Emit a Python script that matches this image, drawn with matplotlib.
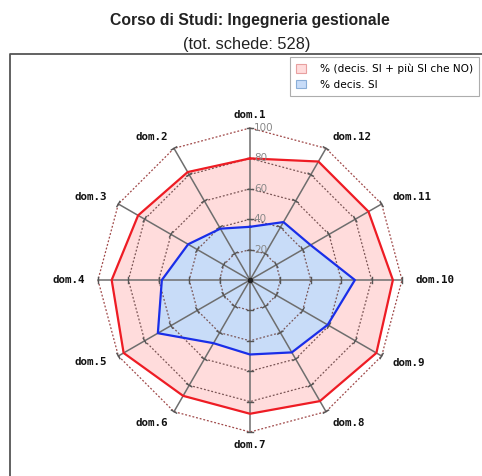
import numpy as np
import matplotlib
matplotlib.use("Agg")
import matplotlib.pyplot as plt
from matplotlib.patches import Patch
from matplotlib.lines import Line2D

categories = ["dom.1", "dom.2", "dom.3", "dom.4", "dom.5", "dom.6",
              "dom.7", "dom.8", "dom.9", "dom.10", "dom.11", "dom.12"]
pos_values = [80, 82, 85, 91, 96, 88, 88, 92, 96, 94, 90, 90]   # % (decis. SI + più SI che NO)
si_values = [35, 39, 47, 58, 70, 48, 49, 55, 59, 69, 46, 44]    # % decis. SI
ring_levels = [20, 40, 60, 80, 100]
ring_labels = ["20", "40", "60", "80", "100"]
title = "Corso di Studi: Ingegneria gestionale"
subtitle = "(tot. schede: 528)"
legend_labels = ["% (decis. SI + più SI che NO)", "% decis. SI"]

W, H = 482, 476
fig = plt.figure(figsize=(W / 100, H / 100), dpi=100)
ax = fig.add_axes([0, 0, 1, 1])
ppu = 1.52
cx, cy = 250, 280
ax.set_xlim(-cx / ppu, (W - cx) / ppu)
ax.set_ylim(-(H - cy) / ppu, cy / ppu)
ax.axis("off")

n = len(categories)
ang = np.pi / 2 + np.arange(n) * 2 * np.pi / n
ca, sa = np.cos(ang), np.sin(ang)

def closed(a):
    return np.append(a, a[0])

# filled series
pv = np.array(pos_values, float)
sv = np.array(si_values, float)
ax.fill(closed(pv * ca), closed(pv * sa), color="#ffdcdc", zorder=1)
ax.fill(closed(sv * ca), closed(sv * sa), color="#c8dcf8", zorder=2)

# rings
for lv in ring_levels:
    col = "#a04848" if lv == 100 else "#7a5555"
    ax.plot(closed(lv * ca), closed(lv * sa), linestyle=(0, (1.5, 1.5)),
            color=col, lw=0.9, zorder=3)

# spokes and ticks
tick_half = 3.0 / ppu
for c, s in zip(ca, sa):
    ax.plot([0, 100 * c], [0, 100 * s], color="#6e6e6e", lw=1.1, zorder=4)
    for lv in ring_levels:
        px, py = lv * c, lv * s
        ax.plot([px - s * tick_half, px + s * tick_half],
                [py + c * tick_half, py - c * tick_half],
                color="#555555", lw=1.0, zorder=4)

ax.plot(closed(pv * ca), closed(pv * sa), color="#ee1c24", lw=1.6, zorder=5)
ax.plot(closed(sv * ca), closed(sv * sa), color="#1a2ee8", lw=1.6, zorder=5)
ax.plot([0], [0], marker="o", ms=3, color="#222222", zorder=6)

# ring labels
for lv, lab in zip(ring_levels, ring_labels):
    ax.text(2.5, lv, lab, fontsize=7.5, color="#888888", ha="left", va="center",
            family="DejaVu Sans", zorder=6)

# category labels
lr = 165 / ppu
for lab, c, s in zip(categories, ca, sa):
    if abs(c) < 0.1:
        ha = "center"
    elif c < 0:
        ha = "right"
    else:
        ha = "left"
    ax.text(lr * c, lr * s, lab, fontsize=7.8, fontweight="bold",
            family="DejaVu Sans Mono", ha=ha, va="center", color="#111111")

# titles
fig.text(250 / W, 1 - 20 / H, title, ha="center", va="center", fontsize=11.3,
         fontweight="bold", family="Liberation Sans", color="#222222")
fig.text(247 / W, 1 - 44 / H, subtitle, ha="center", va="center", fontsize=11.8,
         family="Liberation Sans", color="#222222")

# frame (left and top edges)
fig.add_artist(Line2D([9.5 / W, 9.5 / W, 1], [0, 1 - 54 / H, 1 - 54 / H],
                      color="#555555", lw=1.3, transform=fig.transFigure))

handles = [Patch(facecolor="#ffdcdc", edgecolor="#e8a0a0", lw=0.8),
           Patch(facecolor="#c8dcf8", edgecolor="#8aaed8", lw=0.8)]
leg = fig.legend(handles, legend_labels, loc="upper right",
                 bbox_to_anchor=(479 / W, 1 - 57 / H),
                 frameon=True, fancybox=False, edgecolor="#999999",
                 handlelength=0.9, handleheight=0.9, borderpad=0.6,
                 labelspacing=0.55, handletextpad=1.3, borderaxespad=0,
                 prop={"family": "DejaVu Sans", "size": 7.6})
leg.get_frame().set_linewidth(0.8)

fig.savefig("out.png", dpi=100)
